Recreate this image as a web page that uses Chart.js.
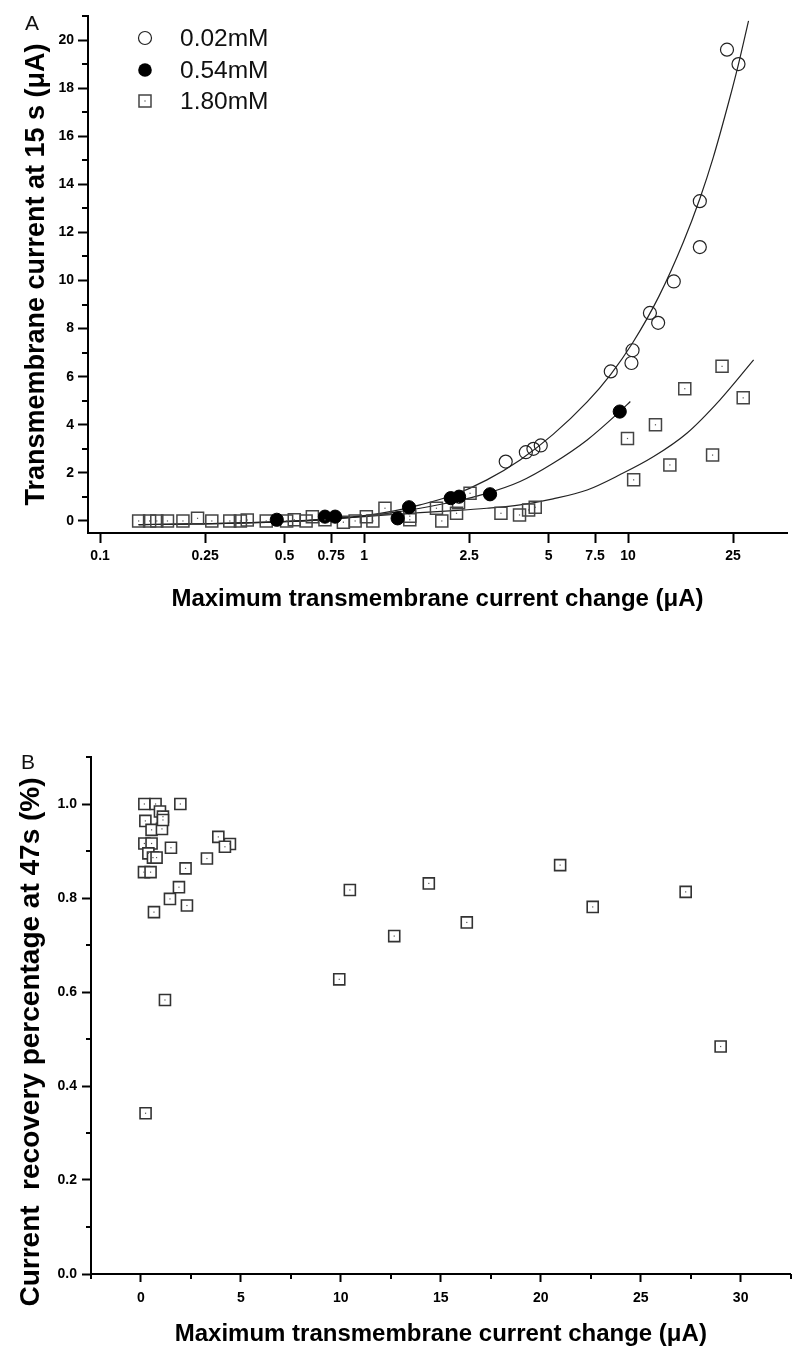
<!DOCTYPE html>
<html><head><meta charset="utf-8">
<script src="https://cdn.jsdelivr.net/npm/chart.js@4.4.1/dist/chart.umd.min.js"></script>
<style>
html,body{margin:0;padding:0;background:#fff;width:800px;height:1361px;overflow:hidden}
canvas{position:absolute;left:0}
#cA{top:0}
#cB{top:680px}
</style></head><body>
<canvas id="cA" width="800" height="620"></canvas>
<canvas id="cB" width="800" height="681"></canvas>
<script>
// ---------- Panel A data ----------
const seriesNamesA = ['0.02mM', '0.54mM', '1.80mM'];
const x002 = [3.44, 4.1, 4.38, 4.67, 8.6, 10.3, 10.4, 12.1, 13.0, 14.9, 18.7, 18.7, 23.7, 26.2];
const y002 = [2.47, 2.86, 3.0, 3.14, 6.22, 6.57, 7.1, 8.65, 8.24, 9.96, 13.3, 11.39, 19.6, 19.0];
const x054 = [0.467, 0.711, 0.777, 1.34, 1.48, 2.13, 2.29, 3.0, 9.3];
const y054 = [0.05, 0.18, 0.18, 0.11, 0.57, 0.95, 1.01, 1.11, 4.55];
const x180 = [0.14, 0.154, 0.164, 0.18, 0.206, 0.234, 0.265, 0.31, 0.34, 0.361, 0.426, 0.509, 0.544, 0.603, 0.637, 0.711, 0.835, 0.925, 1.02, 1.08, 1.2, 1.49, 1.49, 1.88, 1.97, 2.24, 2.28, 2.52, 3.3, 3.88, 4.2, 4.45, 9.95, 10.5, 12.7, 14.4, 16.4, 20.9, 22.7, 27.3];
const y180 = [0, 0, 0, 0, 0, 0.11, 0, 0, 0, 0.04, 0, 0, 0.05, 0, 0.18, 0.05, -0.05, 0, 0.18, 0, 0.53, 0.2, 0.05, 0.53, 0, 0.32, 0.76, 1.15, 0.32, 0.25, 0.46, 0.57, 3.43, 1.71, 4.0, 2.33, 5.5, 2.74, 6.43, 5.12];
// fitted curves
const fitX002 = [0.14, 0.3, 0.5, 0.75, 1.0, 1.3, 1.63, 2.18, 2.92, 3.9, 5.2, 7.0, 8.6, 10.4, 13.1, 16.2, 18.7, 21.0, 24.3, 26.2, 28.6];
const fitY002 = [-0.15, -0.1, -0.02, 0.1, 0.22, 0.42, 0.67, 1.08, 1.71, 2.54, 3.6, 4.95, 6.1, 7.4, 9.35, 11.6, 13.4, 15.1, 17.6, 19.0, 20.8];
const fitX054 = [0.14, 0.3, 0.5, 0.75, 1.0, 1.3, 1.63, 2.18, 2.92, 3.9, 5.2, 7.0, 9.3, 10.2];
const fitY054 = [-0.15, -0.1, -0.03, 0.08, 0.2, 0.36, 0.53, 0.8, 1.15, 1.64, 2.4, 3.37, 4.55, 4.97];
const fitX180 = [0.14, 0.3, 0.5, 0.75, 1.0, 1.3, 1.63, 2.18, 2.92, 3.9, 5.2, 7.0, 9.3, 12.5, 16.7, 22.3, 29.9];
const fitY180 = [-0.15, -0.1, -0.03, 0.08, 0.18, 0.27, 0.35, 0.43, 0.53, 0.67, 0.92, 1.29, 1.92, 2.68, 3.65, 5.04, 6.7];
const xTicksA = [0.1, 0.25, 0.5, 0.75, 1, 2.5, 5, 7.5, 10, 25];
const xTickLabelsA = ['0.1', '0.25', '0.5', '0.75', '1', '2.5', '5', '7.5', '10', '25'];
const yTicksA = [0, 2, 4, 6, 8, 10, 12, 14, 16, 18, 20];
const yMinorA = [1, 3, 5, 7, 9, 11, 13, 15, 17, 19, 21];

// ---------- Panel B data ----------
const xB = [0.17, 0.73, 0.95, 1.1, 1.97, 0.22, 0.53, 1.05, 1.1, 3.87, 4.45, 4.2, 0.17, 0.53, 0.37, 0.6, 0.78, 1.5, 3.3, 2.23, 0.15, 0.48, 1.9, 1.45, 0.65, 2.3, 1.2, 0.23, 9.92, 10.45, 12.67, 14.4, 16.3, 20.97, 22.6, 27.25, 29.0];
const yB = [1.0, 1.0, 0.984, 0.973, 1.0, 0.964, 0.945, 0.947, 0.966, 0.930, 0.915, 0.909, 0.916, 0.916, 0.895, 0.886, 0.886, 0.907, 0.884, 0.863, 0.855, 0.855, 0.823, 0.798, 0.770, 0.784, 0.583, 0.342, 0.627, 0.817, 0.719, 0.831, 0.748, 0.870, 0.781, 0.813, 0.484];
const xTicksB = [0, 5, 10, 15, 20, 25, 30];
const xMinorB = [-2.5, 2.5, 7.5, 12.5, 17.5, 22.5, 27.5, 32.5];
const yTicksB = [0, 0.2, 0.4, 0.6, 0.8, 1.0];
const yMinorB = [0.1, 0.3, 0.5, 0.7, 0.9, 1.1];

const FONT = '"Liberation Sans", Arial, sans-serif';
Chart.defaults.font.family = FONT;
Chart.defaults.color = '#000';

const pts = (xs, ys) => xs.map((x, i) => ({x, y: ys[i]}));

function minorTicks(spec) {
  return {
    id: 'minorTicks',
    afterDraw(chart) {
      const ctx = chart.ctx, ca = chart.chartArea;
      ctx.save();
      ctx.strokeStyle = '#000';
      ctx.lineWidth = 2;
      for (const id in spec) {
        const s = chart.scales[id];
        spec[id].values.forEach(v => {
          const p = Math.round(s.getPixelForValue(v));
          ctx.beginPath();
          if (s.isHorizontal()) { ctx.moveTo(p, ca.bottom); ctx.lineTo(p, ca.bottom + spec[id].len); }
          else { ctx.moveTo(ca.left, p); ctx.lineTo(ca.left - spec[id].len, p); }
          ctx.stroke();
        });
      }
      ctx.restore();
    }
  };
}

const centerDots = {
  id: 'centerDots',
  afterDatasetsDraw(chart) {
    const ctx = chart.ctx;
    ctx.save();
    ctx.fillStyle = '#555';
    chart.data.datasets.forEach((ds, i) => {
      if (!ds.centerDot) return;
      chart.getDatasetMeta(i).data.forEach(el => ctx.fillRect(el.x - 0.6, el.y - 0.6, 1.2, 1.2));
    });
    ctx.restore();
  }
};

function panelLabel(text, x, y) {
  return {
    id: 'panelLabel',
    afterDraw(chart) {
      const ctx = chart.ctx;
      ctx.save();
      ctx.font = '21px ' + FONT;
      ctx.fillStyle = '#111';
      ctx.textAlign = 'center';
      ctx.textBaseline = 'middle';
      ctx.fillText(text, x, y);
      ctx.restore();
    }
  };
}

function rotatedTitle(text, x, y, size) {
  return {
    id: 'rotatedTitle',
    afterDraw(chart) {
      const ctx = chart.ctx;
      ctx.save();
      ctx.translate(x, y);
      ctx.rotate(-Math.PI / 2);
      ctx.font = 'bold ' + size + 'px ' + FONT;
      ctx.fillStyle = '#000';
      ctx.textAlign = 'center';
      ctx.textBaseline = 'middle';
      ctx.fillText(text, 0, 0);
      ctx.restore();
    }
  };
}

const legendA = {
  id: 'legendA',
  afterDraw(chart) {
    const ctx = chart.ctx;
    const rows = [38, 70, 101];
    ctx.save();
    ctx.strokeStyle = '#222';
    ctx.lineWidth = 1.2;
    ctx.beginPath(); ctx.arc(145, rows[0], 6.5, 0, Math.PI * 2); ctx.stroke();
    ctx.fillStyle = '#000';
    ctx.beginPath(); ctx.arc(145, rows[1], 6.8, 0, Math.PI * 2); ctx.fill();
    ctx.strokeStyle = '#444'; ctx.lineWidth = 1.5;
    ctx.strokeRect(139, rows[2] - 6, 12, 12);
    ctx.fillStyle = '#555'; ctx.fillRect(144.4, rows[2] - 0.6, 1.2, 1.2);
    ctx.fillStyle = '#111';
    ctx.font = '24.5px ' + FONT;
    ctx.textAlign = 'left';
    ctx.textBaseline = 'middle';
    seriesNamesA.forEach((n, i) => ctx.fillText(n, 180, rows[i] + 1));
    ctx.restore();
  }
};

const tickFont = {family: FONT, size: 14, weight: 'bold'};
const gridOpts = (len) => ({display: true, drawOnChartArea: false, drawTicks: true, tickLength: len, tickColor: '#000', tickWidth: 2});
const borderOpts = {display: true, color: '#000', width: 2};

new Chart(document.getElementById('cA'), {
  type: 'scatter',
  data: {
    datasets: [
      {label: seriesNamesA[1], data: pts(x054, y054), pointStyle: 'circle', pointRadius: 6.6, backgroundColor: '#000', borderColor: '#000', borderWidth: 1},
      {label: seriesNamesA[0], data: pts(x002, y002), pointStyle: 'circle', pointRadius: 6.5, backgroundColor: 'rgba(0,0,0,0)', borderColor: '#222', borderWidth: 1.2},
      {label: seriesNamesA[2], data: pts(x180, y180), pointStyle: 'rect', pointRadius: 8.5, backgroundColor: 'rgba(0,0,0,0)', borderColor: '#444', borderWidth: 1.5, centerDot: true},
      {label: 'fit 0.02', data: pts(fitX002, fitY002), showLine: true, pointRadius: 0, borderColor: '#222', borderWidth: 1.2, cubicInterpolationMode: 'monotone'},
      {label: 'fit 0.54', data: pts(fitX054, fitY054), showLine: true, pointRadius: 0, borderColor: '#222', borderWidth: 1.2, cubicInterpolationMode: 'monotone'},
      {label: 'fit 1.80', data: pts(fitX180, fitY180), showLine: true, pointRadius: 0, borderColor: '#222', borderWidth: 1.2, cubicInterpolationMode: 'monotone'}
    ]
  },
  options: {
    responsive: false, animation: false, events: [],
    layout: {padding: {top: 16, right: 13, left: 0, bottom: 0}},
    plugins: {legend: {display: false}, tooltip: {enabled: false}},
    scales: {
      x: {
        type: 'logarithmic', min: 0.09, max: 40,
        afterBuildTicks: s => { s.ticks = xTicksA.map(v => ({value: v})); },
        afterFit: s => { s.height = 87; },
        ticks: {font: tickFont, color: '#000', padding: 5, autoSkip: false, maxRotation: 0,
          callback: (v) => { const i = xTicksA.findIndex(t => Math.abs(t - v) < 1e-9); return i >= 0 ? xTickLabelsA[i] : ''; }},
        grid: gridOpts(10), border: borderOpts,
        title: {display: true, text: 'Maximum transmembrane current change (μA)', color: '#000',
          font: {family: FONT, size: 24, weight: 'bold'}, padding: {top: 0, bottom: 6}}
      },
      y: {
        type: 'linear', min: -0.5, max: 21,
        afterBuildTicks: s => { s.ticks = yTicksA.map(v => ({value: v})); },
        afterFit: s => { s.width = 88; },
        ticks: {font: tickFont, color: '#000', padding: 4, autoSkip: false, callback: v => String(v)},
        grid: gridOpts(10), border: borderOpts,
        title: {display: true, text: 'Transmembrane current at 15 s (μA)', color: '#000',
          font: {family: FONT, size: 27, weight: 'bold'}, padding: {top: 20, bottom: 0}}
      }
    }
  },
  plugins: [minorTicks({y: {values: yMinorA, len: 6}}), centerDots, legendA, panelLabel('A', 32, 24)]
});

new Chart(document.getElementById('cB'), {
  type: 'scatter',
  data: {
    datasets: [
      {label: 'recovery', data: pts(xB, yB), pointStyle: 'rect', pointRadius: 7.8, backgroundColor: '#fff', borderColor: '#333', borderWidth: 1.6, centerDot: true}
    ]
  },
  options: {
    responsive: false, animation: false, events: [],
    layout: {padding: {top: 77, right: 9, left: 0, bottom: 0}},
    plugins: {legend: {display: false}, tooltip: {enabled: false}},
    scales: {
      x: {
        type: 'linear', min: -2.5, max: 32.5,
        afterBuildTicks: s => { s.ticks = xTicksB.map(v => ({value: v})); },
        afterFit: s => { s.height = 87; },
        ticks: {font: tickFont, color: '#000', padding: 8, autoSkip: false, maxRotation: 0, callback: v => String(v)},
        grid: gridOpts(8), border: borderOpts,
        title: {display: true, text: 'Maximum transmembrane current change (μA)', color: '#000',
          font: {family: FONT, size: 24, weight: 'bold'}, padding: {top: 0, bottom: 12}}
      },
      y: {
        type: 'linear', min: 0, max: 1.1,
        afterBuildTicks: s => { s.ticks = yTicksB.map(v => ({value: v})); },
        afterFit: s => { s.width = 91; },
        ticks: {font: tickFont, color: '#000', padding: 5, autoSkip: false, callback: v => v.toFixed(1)},
        grid: gridOpts(9), border: borderOpts,
        title: {display: false}
      }
    }
  },
  plugins: [minorTicks({x: {values: xMinorB, len: 5}, y: {values: yMinorB, len: 5}}), centerDots,
            rotatedTitle('Current  recovery percentage at 47s (%)', 31, 362, 28), panelLabel('B', 28, 83)]
});
</script>
</body></html>
